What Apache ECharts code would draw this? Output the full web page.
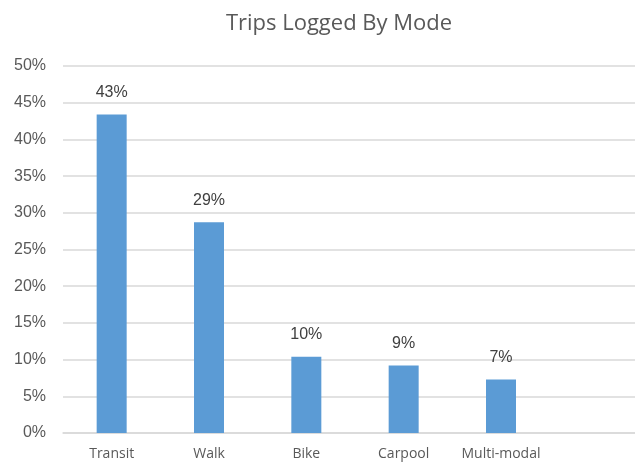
<!DOCTYPE html>
<html><head><meta charset="utf-8">
<script src="https://cdn.jsdelivr.net/npm/echarts@6/dist/echarts.min.js"></script>
<style>html,body{margin:0;padding:0;background:#fff;overflow:hidden}#c{width:650px;height:462px}</style>
</head><body><div id="c"></div>
<script>
const categories = ['Transit', 'Walk', 'Bike', 'Carpool', 'Multi-modal', ''];
const shares = [43.4, 28.7, 10.4, 9.2, 7.3, null];
const yTicks = [0, 5, 10, 15, 20, 25, 30, 35, 40, 45, 50];

const chart = echarts.init(document.getElementById('c'), null, {renderer: 'canvas'});
chart.setOption({
  animation: false,
  backgroundColor: '#ffffff',
  title: {
    text: 'Trips Logged By Mode', left: 334, top: 8, textAlign: 'center',
    textStyle: {fontFamily: 'Open Sans', fontSize: 22, fontWeight: 'normal', color: '#595959'}
  },
  grid: {left: 63, top: 66, right: 3, bottom: 29, containLabel: false},
  xAxis: {
    type: 'category', data: categories,
    axisLine: {show: true, lineStyle: {color: '#d9d9d9', width: 1.5}},
    axisTick: {show: false},
    axisLabel: {interval: 0, margin: 14, fontFamily: 'Open Sans', fontSize: 14, color: '#595959'}
  },
  yAxis: {
    type: 'value', min: yTicks[0], max: yTicks[yTicks.length - 1], interval: 5,
    axisLine: {show: false}, axisTick: {show: false},
    splitLine: {lineStyle: {color: '#d9d9d9', width: 1.5}},
    axisLabel: {margin: 17, fontFamily: 'Liberation Sans', fontSize: 16, color: '#595959', formatter: v => v + '%'}
  },
  series: [{
    type: 'bar', data: shares, barWidth: 30,
    itemStyle: {color: '#5B9BD5'},
    label: {
      show: true, position: 'top', distance: 14,
      fontFamily: 'Liberation Sans', fontSize: 16, color: '#404040',
      formatter: p => Math.round(p.value) + '%'
    }
  }]
});
</script></body></html>
